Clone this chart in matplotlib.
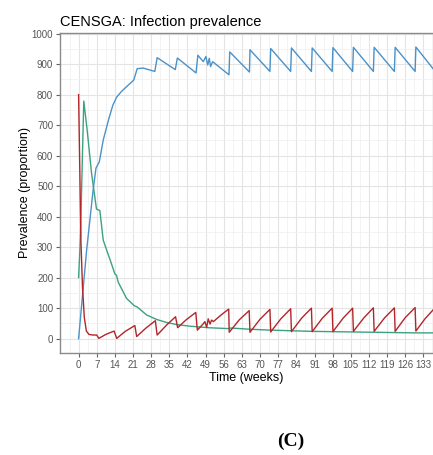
import matplotlib
matplotlib.use("Agg")
import matplotlib.pyplot as plt
from matplotlib.ticker import MultipleLocator

# weeks / prevalence
weeks_blue = [0, 3.1, 5.6, 6.7, 8.0, 9.5, 11.7, 13.2, 14.7, 16.5, 18.5, 21.3, 22.6, 24.9, 29.4,
              30.3, 37.3, 38.1, 45.3, 46.0, 48.1, 49.1, 49.8, 50.4, 50.9, 51.7, 58.0,
              58.3, 65.9, 66.1, 73.8, 74.1, 81.8, 82.1, 89.8, 90.1, 97.8, 98.1, 105.7,
              106.0, 113.7, 114.0, 121.8, 122.1, 129.8, 130.1, 136.8]
prev_blue = [0, 290, 487, 559, 580, 651, 722, 765, 792, 810, 826, 848, 885, 887, 876,
             921, 882, 920, 871, 929, 908, 925, 897, 919, 892, 908, 865,
             940, 874, 947, 876, 951, 876, 953, 876, 953, 876, 954, 876,
             955, 876, 955, 876, 955, 876, 956, 884]

weeks_green = [0, 0.7, 2.0, 3.3, 5.0, 6.9, 8.2, 9.5, 10.8, 12.5, 14.0, 14.6, 15.3, 18.5,
               21.5, 22.6, 26.2, 30.1, 34, 38, 43, 50, 57.9, 58.5, 66, 74, 82, 90, 98,
               106, 114, 122, 130, 136.8]
prev_green = [200, 330, 779, 684, 542, 425, 420, 323, 291, 250, 212, 208, 185, 132,
              108, 104, 78, 63, 53, 46, 41, 36, 33, 35, 31, 28, 26, 24, 23,
              22, 21, 20, 19, 19]

weeks_red = [0, 0.9, 1.5, 2.2, 3, 4, 5.5, 7, 7.8, 10.5, 13.7, 14.7, 18, 21.7, 22.4, 26,
             29.6, 30.3, 34, 37.4, 38.2, 41.5, 45.2, 45.8, 48, 48.7, 49.4, 50.0, 50.7,
             51.3, 52, 55, 57.9, 58.1, 62, 65.8, 66.1, 70, 73.8, 74.1, 78, 81.8, 82.1,
             86, 89.8, 90.1, 94, 97.8, 98.1, 102, 105.7, 106, 110, 113.7, 114, 118,
             121.8, 122.1, 126, 129.8, 130.1, 133.5, 136.8]
prev_red = [800, 320, 170, 70, 25, 14, 12, 12, 1, 14, 25, 1, 24, 43, 7, 35,
            59, 12, 45, 72, 36, 62, 86, 28, 48, 56, 37, 65, 48,
            61, 56, 78, 97, 21, 62, 92, 21, 64, 96, 22, 65, 98, 23,
            67, 100, 23, 67, 100, 23, 67, 100, 24, 68, 101, 24, 68,
            101, 24, 69, 102, 25, 64, 95]

x_ticks = list(range(0, 134, 7))
y_ticks = list(range(0, 1001, 100))

plt.rcParams['font.family'] = ['Liberation Sans', 'DejaVu Sans']

fig = plt.figure(figsize=(4.33, 4.55), dpi=100)
ax = fig.add_axes([0.139, 0.2248, 0.861, 0.7027])

ax.plot(weeks_blue, prev_blue, color='#4A92C9', lw=1.0)
ax.plot(weeks_green, prev_green, color='#3BA27E', lw=1.0)
ax.plot(weeks_red, prev_red, color='#B2262A', lw=1.0)

ax.set_xlim(-7.1, 136.7)
ax.set_ylim(-46, 1002)
ax.set_xticks(x_ticks)
ax.set_yticks(y_ticks)
ax.xaxis.set_minor_locator(MultipleLocator(3.5))
ax.yaxis.set_minor_locator(MultipleLocator(50))
ax.grid(which='major', color='#E4E4E4', lw=0.8)
ax.grid(which='minor', color='#EFEFEF', lw=0.5)
ax.set_axisbelow(True)

ax.tick_params(which='major', length=3, width=0.8, color='#666666',
               labelsize=7, labelcolor='#555555', pad=2)
ax.tick_params(which='minor', length=0)
for s in ['left', 'bottom', 'top']:
    ax.spines[s].set_color('#8A8A8A')
    ax.spines[s].set_linewidth(1.0)
ax.spines['right'].set_visible(False)

ax.set_xlabel('Time (weeks)', fontsize=9, labelpad=2)
ax.set_ylabel('Prevalence (proportion)', fontsize=9)
ax.yaxis.set_label_coords(-0.078, 0.5)
ax.set_title('CENSGA: Infection prevalence', fontsize=10.5, loc='left', pad=5)

fig.text(0.64, 0.029, '(C)', fontsize=14, fontweight='bold',
         family=['Liberation Serif', 'DejaVu Serif'], ha='left', va='center')

fig.savefig('out.png', dpi=100)
